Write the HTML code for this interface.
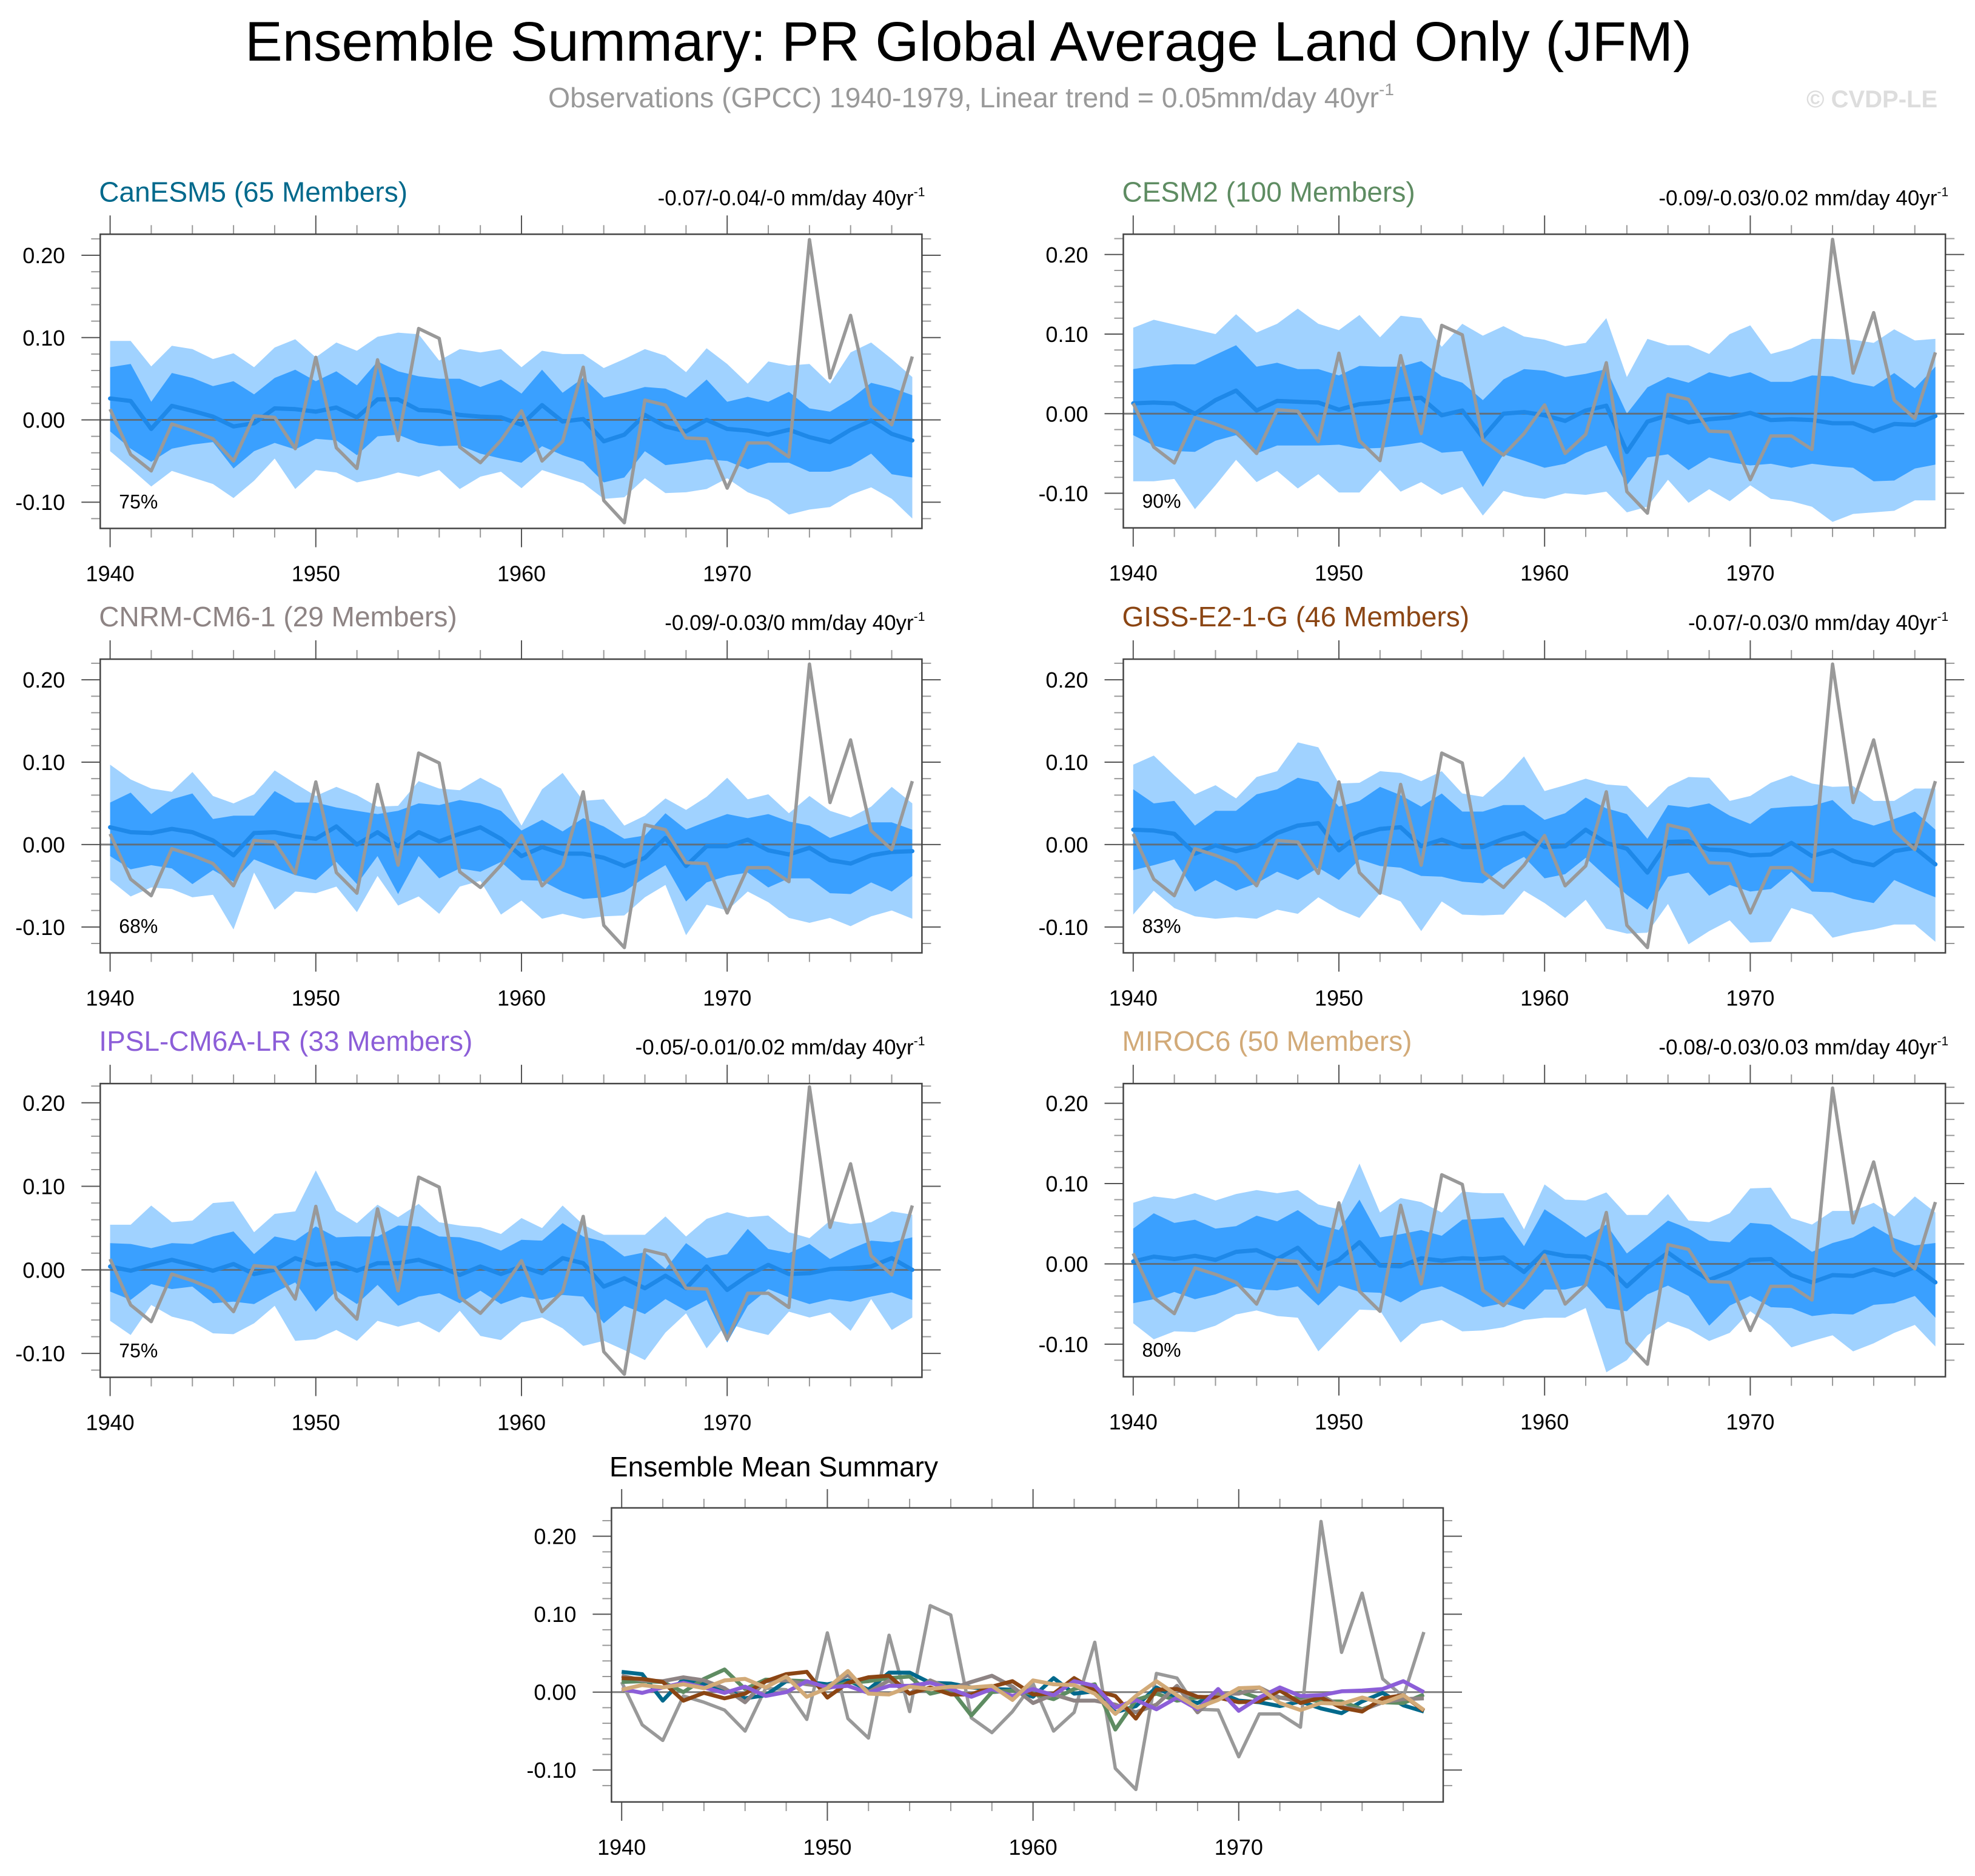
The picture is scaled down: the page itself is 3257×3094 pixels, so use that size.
<!DOCTYPE html>
<html>
<head>
<meta charset="utf-8">
<style>
  html,body{margin:0;padding:0;background:#fff;}
  svg{display:block;font-family:"Liberation Sans",Arial,sans-serif;}
</style>
</head>
<body>
<svg id="chart" xmlns="http://www.w3.org/2000/svg" width="3257" height="3094" viewBox="0 0 3257 3094">
  <rect x="0" y="0" width="3257" height="3094" fill="#fff"/>
  <text x="1597" y="100" font-size="92" text-anchor="middle" textLength="2386" lengthAdjust="spacingAndGlyphs" fill="#000">Ensemble Summary: PR Global Average Land Only (JFM)</text>
  <text x="904" y="177" font-size="46" fill="#999"><tspan textLength="1370" lengthAdjust="spacingAndGlyphs">Observations (GPCC) 1940-1979, Linear trend = 0.05mm/day 40yr</tspan><tspan font-size="28" dy="-20">-1</tspan></text>
  <text x="2979" y="177" font-size="40" font-weight="bold" fill="#ddd">© CVDP-LE</text>
  <text x="1005" y="2435" font-size="46" fill="#000">Ensemble Mean Summary</text>
  <g id="plots"></g>
</svg>
<script>
const years = [1940,1941,1942,1943,1944,1945,1946,1947,1948,1949,1950,1951,1952,1953,1954,1955,1956,1957,1958,1959,1960,1961,1962,1963,1964,1965,1966,1967,1968,1969,1970,1971,1972,1973,1974,1975,1976,1977,1978,1979];
const xTickYears = [1940,1950,1960,1970];
const yTickValues = [0.2,0.1,0,-0.1];
const yTickLabels = ["0.20","0.10","0.00","-0.10"];

const obs = [0.013,-0.042,-0.062,-0.005,-0.013,-0.023,-0.050,0.005,0.003,-0.035,0.076,-0.034,-0.059,0.073,-0.025,0.111,0.099,-0.033,-0.052,-0.025,0.011,-0.050,-0.026,0.064,-0.098,-0.125,0.024,0.018,-0.022,-0.023,-0.083,-0.028,-0.028,-0.045,0.219,0.051,0.127,0.017,-0.006,0.077];

// CanESM5
const canMean = [0.026,0.023,-0.011,0.017,0.011,0.004,-0.008,-0.004,0.014,0.013,0.010,0.015,0.003,0.025,0.025,0.012,0.011,0.006,0.004,0.003,-0.006,0.018,-0.002,0.001,-0.026,-0.018,0.006,-0.008,-0.014,0,-0.011,-0.013,-0.018,-0.012,-0.021,-0.027,-0.012,-0.001,-0.017,-0.025];
const canDarkHi = [0.064,0.068,0.022,0.057,0.051,0.041,0.047,0.031,0.051,0.061,0.047,0.059,0.042,0.071,0.059,0.053,0.050,0.050,0.040,0.049,0.032,0.061,0.033,0.051,0.027,0.033,0.040,0.038,0.027,0.049,0.022,0.028,0.022,0.034,0.014,0.010,0.025,0.045,0.039,0.030];
const canDarkLo = [-0.014,-0.035,-0.051,-0.035,-0.030,-0.027,-0.059,-0.038,-0.028,-0.036,-0.023,-0.025,-0.043,-0.020,-0.018,-0.028,-0.032,-0.031,-0.041,-0.047,-0.052,-0.032,-0.043,-0.051,-0.076,-0.070,-0.038,-0.055,-0.052,-0.048,-0.050,-0.060,-0.052,-0.052,-0.063,-0.063,-0.056,-0.041,-0.066,-0.070];
const canLightHi = [0.096,0.096,0.065,0.090,0.086,0.074,0.081,0.064,0.088,0.098,0.076,0.094,0.084,0.101,0.106,0.104,0.072,0.086,0.082,0.086,0.064,0.084,0.080,0.080,0.063,0.074,0.086,0.078,0.058,0.087,0.068,0.044,0.071,0.066,0.068,0.044,0.082,0.094,0.074,0.052];
const canLightLo = [-0.038,-0.059,-0.081,-0.062,-0.070,-0.078,-0.095,-0.074,-0.047,-0.084,-0.061,-0.064,-0.076,-0.071,-0.064,-0.069,-0.061,-0.084,-0.069,-0.063,-0.083,-0.061,-0.069,-0.077,-0.096,-0.094,-0.071,-0.089,-0.088,-0.084,-0.071,-0.088,-0.097,-0.115,-0.109,-0.106,-0.091,-0.082,-0.096,-0.120];

// CESM2
const cesmMean = [0.013,0.014,0.013,0,0.017,0.029,0.004,0.016,0.015,0.014,0.005,0.012,0.014,0.018,0.020,-0.002,0.004,-0.030,0,0.002,-0.002,-0.009,0.004,0.010,-0.048,-0.010,-0.002,-0.011,-0.007,-0.005,0.001,-0.008,-0.007,-0.008,-0.012,-0.012,-0.022,-0.013,-0.014,-0.003];
const cesmDarkHi = [0.056,0.060,0.062,0.062,0.074,0.086,0.059,0.064,0.056,0.056,0.048,0.060,0.059,0.059,0.066,0.047,0.039,0.017,0.043,0.056,0.054,0.046,0.050,0.056,0,0.033,0.046,0.039,0.052,0.046,0.052,0.040,0.040,0.048,0.047,0.039,0.034,0.051,0.032,0.059];
const cesmDarkLo = [-0.027,-0.040,-0.047,-0.048,-0.034,-0.027,-0.050,-0.040,-0.040,-0.040,-0.039,-0.044,-0.043,-0.040,-0.036,-0.049,-0.047,-0.092,-0.051,-0.059,-0.068,-0.063,-0.049,-0.040,-0.090,-0.055,-0.051,-0.071,-0.055,-0.061,-0.065,-0.063,-0.068,-0.063,-0.066,-0.068,-0.085,-0.084,-0.069,-0.064];
const cesmLightHi = [0.108,0.118,0.112,0.106,0.100,0.125,0.102,0.113,0.132,0.113,0.105,0.124,0.096,0.123,0.120,0.084,0.113,0.098,0.110,0.097,0.093,0.085,0.089,0.120,0.046,0.094,0.086,0.086,0.075,0.100,0.111,0.075,0.082,0.094,0.094,0.093,0.089,0.106,0.092,0.094];
const cesmLightLo = [-0.085,-0.085,-0.082,-0.120,-0.090,-0.058,-0.086,-0.072,-0.094,-0.076,-0.099,-0.099,-0.071,-0.098,-0.086,-0.102,-0.092,-0.128,-0.097,-0.104,-0.107,-0.100,-0.102,-0.098,-0.124,-0.117,-0.083,-0.112,-0.095,-0.110,-0.090,-0.107,-0.110,-0.117,-0.136,-0.126,-0.124,-0.122,-0.109,-0.109];

// CNRM-CM6-1
const cnrmMean = [0.021,0.015,0.014,0.019,0.015,0.005,-0.013,0.014,0.015,0.010,0.007,0.022,0,0.015,-0.002,0.015,0.004,0.013,0.021,0.007,-0.014,-0.003,-0.011,-0.011,-0.016,-0.026,-0.016,0.008,-0.026,-0.002,-0.002,0.006,-0.007,-0.012,-0.004,-0.019,-0.023,-0.013,-0.009,-0.008];
const cnrmDarkHi = [0.051,0.063,0.037,0.055,0.062,0.031,0.035,0.035,0.065,0.051,0.051,0.045,0.041,0.037,0.041,0.050,0.048,0.054,0.050,0.041,0.017,0.030,0.016,0.032,0.022,0.007,0.011,0.038,0.018,0.028,0.037,0.032,0.037,0.028,0.023,0.008,0.017,0.027,0.027,0.018];
const cnrmDarkLo = [-0.014,-0.030,-0.025,-0.029,-0.048,-0.031,-0.045,-0.018,-0.028,-0.037,-0.043,-0.021,-0.048,-0.014,-0.060,-0.014,-0.041,-0.029,-0.033,-0.021,-0.043,-0.044,-0.057,-0.066,-0.064,-0.057,-0.040,-0.025,-0.069,-0.046,-0.038,-0.034,-0.052,-0.041,-0.041,-0.059,-0.060,-0.046,-0.057,-0.038];
const cnrmLightHi = [0.097,0.079,0.068,0.064,0.088,0.059,0.050,0.061,0.090,0.074,0.059,0.070,0.060,0.046,0.047,0.077,0.068,0.066,0.081,0.068,0.023,0.067,0.087,0.053,0.055,0.023,0.035,0.056,0.042,0.058,0.081,0.055,0.061,0.038,0.059,0.041,0.033,0.046,0.070,0.050];
const cnrmLightLo = [-0.043,-0.063,-0.052,-0.054,-0.064,-0.061,-0.103,-0.034,-0.079,-0.057,-0.059,-0.051,-0.082,-0.038,-0.074,-0.063,-0.084,-0.051,-0.044,-0.085,-0.068,-0.090,-0.084,-0.090,-0.087,-0.086,-0.064,-0.049,-0.110,-0.073,-0.080,-0.057,-0.070,-0.089,-0.095,-0.089,-0.099,-0.087,-0.080,-0.090];

// GISS-E2-1-G
const gissMean = [0.018,0.017,0.013,-0.011,-0.001,-0.008,-0.002,0.014,0.023,0.026,-0.007,0.012,0.019,0.021,-0.002,0.006,-0.003,-0.003,0.007,0.014,-0.003,-0.002,0.018,0.002,-0.005,-0.034,0.003,0.004,-0.006,-0.007,-0.013,-0.012,0.002,-0.014,-0.007,-0.020,-0.025,-0.008,-0.004,-0.024];
const gissDarkHi = [0.067,0.050,0.053,0.023,0.041,0.041,0.061,0.067,0.081,0.076,0.046,0.053,0.070,0.060,0.046,0.062,0.040,0.040,0.048,0.048,0.030,0.038,0.057,0.044,0.037,0.007,0.048,0.045,0.050,0.035,0.025,0.044,0.046,0.047,0.054,0.031,0.023,0.031,0.040,0.018];
const gissDarkLo = [-0.031,-0.025,-0.018,-0.057,-0.043,-0.056,-0.047,-0.033,-0.043,-0.028,-0.043,-0.018,-0.026,-0.028,-0.038,-0.039,-0.045,-0.047,-0.028,-0.015,-0.041,-0.036,-0.016,-0.039,-0.061,-0.079,-0.039,-0.034,-0.062,-0.049,-0.057,-0.054,-0.033,-0.057,-0.058,-0.066,-0.071,-0.043,-0.054,-0.064];
const gissLightHi = [0.097,0.108,0.084,0.061,0.072,0.056,0.082,0.089,0.124,0.118,0.074,0.075,0.089,0.087,0.077,0.089,0.062,0.058,0.080,0.107,0.065,0.072,0.080,0.073,0.071,0.045,0.070,0.082,0.081,0.053,0.059,0.075,0.084,0.074,0.070,0.071,0.053,0.053,0.068,0.068];
const gissLightLo = [-0.085,-0.056,-0.077,-0.087,-0.090,-0.088,-0.090,-0.079,-0.084,-0.064,-0.079,-0.089,-0.059,-0.069,-0.105,-0.069,-0.085,-0.086,-0.085,-0.056,-0.071,-0.089,-0.067,-0.102,-0.108,-0.107,-0.072,-0.121,-0.105,-0.092,-0.119,-0.118,-0.077,-0.085,-0.113,-0.107,-0.103,-0.097,-0.097,-0.118];

// IPSL-CM6A-LR
const ipslMean = [0.004,-0.001,0.006,0.012,0.006,-0.001,0.007,-0.005,0,0.014,0.006,0.008,-0.001,0.008,0.008,0.012,0.004,-0.006,0.004,-0.005,0.004,-0.004,0.014,0.008,-0.020,-0.010,-0.022,-0.007,-0.022,0.004,-0.024,-0.007,0.006,-0.005,-0.004,0.001,0.002,0.004,0.014,0];
const ipslDarkHi = [0.032,0.031,0.026,0.032,0.031,0.040,0.046,0.019,0.040,0.035,0.052,0.039,0.040,0.040,0.053,0.052,0.040,0.039,0.033,0.023,0.036,0.035,0.056,0.040,0.034,0.016,0.021,0.001,0.032,0.014,0.019,0.049,0.025,0.020,0.031,0.013,0.025,0.035,0.033,0.039];
const ipslDarkLo = [-0.026,-0.036,-0.017,-0.023,-0.020,-0.040,-0.038,-0.041,-0.027,-0.015,-0.050,-0.025,-0.041,-0.018,-0.043,-0.032,-0.028,-0.040,-0.025,-0.041,-0.032,-0.036,-0.030,-0.032,-0.064,-0.043,-0.053,-0.035,-0.049,-0.036,-0.087,-0.043,-0.023,-0.033,-0.041,-0.035,-0.038,-0.032,-0.027,-0.036];
const ipslLightHi = [0.054,0.054,0.077,0.057,0.059,0.080,0.082,0.045,0.067,0.070,0.119,0.071,0.056,0.078,0.063,0.079,0.057,0.053,0.051,0.043,0.062,0.050,0.077,0.054,0.042,0.042,0.042,0.064,0.040,0.061,0.069,0.063,0.065,0.045,0.038,0.059,0.055,0.057,0.070,0.066];
const ipslLightLo = [-0.061,-0.078,-0.042,-0.056,-0.062,-0.076,-0.077,-0.064,-0.043,-0.085,-0.083,-0.072,-0.085,-0.061,-0.068,-0.062,-0.075,-0.049,-0.079,-0.084,-0.063,-0.057,-0.070,-0.091,-0.085,-0.096,-0.108,-0.075,-0.052,-0.094,-0.064,-0.072,-0.078,-0.050,-0.057,-0.051,-0.073,-0.035,-0.072,-0.057];

// MIROC6
const mirocMean = [0.003,0.009,0.006,0.010,0.005,0.015,0.017,0.006,0.020,-0.006,0.005,0.027,-0.002,-0.003,0.007,0.004,0.007,0.006,0.008,-0.010,0.015,0.010,0.009,-0.002,-0.028,-0.005,0.014,-0.004,-0.020,-0.010,0.005,0.006,-0.014,-0.023,-0.014,-0.015,-0.007,-0.014,-0.004,-0.023];
const mirocDarkHi = [0.044,0.063,0.051,0.055,0.044,0.047,0.060,0.053,0.067,0.049,0.042,0.080,0.033,0.037,0.042,0.035,0.055,0.056,0.058,0.022,0.068,0.051,0.033,0.049,0.013,0.033,0.054,0.044,0.029,0.027,0.051,0.049,0.033,0.015,0.026,0.033,0.047,0.032,0.023,0.026];
const mirocDarkLo = [-0.049,-0.044,-0.035,-0.044,-0.038,-0.028,-0.032,-0.033,-0.028,-0.052,-0.027,-0.035,-0.036,-0.048,-0.033,-0.028,-0.040,-0.054,-0.049,-0.057,-0.032,-0.032,-0.026,-0.055,-0.059,-0.038,-0.027,-0.040,-0.077,-0.052,-0.040,-0.054,-0.055,-0.065,-0.062,-0.063,-0.051,-0.049,-0.040,-0.067];
const mirocLightHi = [0.076,0.084,0.081,0.088,0.079,0.087,0.092,0.088,0.092,0.074,0.068,0.125,0.064,0.082,0.077,0.064,0.090,0.088,0.088,0.043,0.099,0.080,0.079,0.089,0.061,0.061,0.087,0.054,0.052,0.063,0.094,0.095,0.057,0.049,0.066,0.066,0.076,0.059,0.084,0.064];
const mirocLightLo = [-0.074,-0.094,-0.084,-0.085,-0.077,-0.063,-0.058,-0.065,-0.067,-0.109,-0.083,-0.057,-0.058,-0.098,-0.075,-0.070,-0.084,-0.083,-0.079,-0.070,-0.067,-0.067,-0.055,-0.135,-0.120,-0.089,-0.072,-0.081,-0.096,-0.086,-0.059,-0.077,-0.104,-0.096,-0.089,-0.109,-0.099,-0.086,-0.076,-0.103];

const modelNames = ["CanESM5 (65 Members)","CESM2 (100 Members)","CNRM-CM6-1 (29 Members)","GISS-E2-1-G (46 Members)","IPSL-CM6A-LR (33 Members)","MIROC6 (50 Members)"];
const modelTrends = ["-0.07/-0.04/-0","-0.09/-0.03/0.02","-0.09/-0.03/0","-0.07/-0.03/0","-0.05/-0.01/0.02","-0.08/-0.03/0.03"];
const modelPercents = ["75%","90%","68%","83%","75%","80%"];

const modelColors = ["#00698c","#5e8c62","#8e8484","#8b4513","#8c5ed8","#d2aa78"];
const SVGNS = "http://www.w3.org/2000/svg";
const root = document.getElementById("plots");

function mk(tag, attrs, parent) {
  const e = document.createElementNS(SVGNS, tag);
  for (const k in attrs) e.setAttribute(k, attrs[k]);
  (parent || root).appendChild(e);
  return e;
}

const layouts = [
  {l:165.3,r:1520.4,x0:181.6,t:386.3,b:871.5,yt:0.2256,yb:-0.1319},
  {l:1852.5,r:3208.2,x0:1868.8,t:386.3,b:870.6,yt:0.2255,yb:-0.1435},
  {l:165.3,r:1520.4,x0:181.6,t:1087.1,b:1571.5,yt:0.2250,yb:-0.1314},
  {l:1852.5,r:3208.2,x0:1868.8,t:1087.1,b:1571.5,yt:0.2250,yb:-0.1314},
  {l:165.3,r:1520.4,x0:181.6,t:1787.1,b:2271.5,yt:0.2230,yb:-0.1286},
  {l:1852.5,r:3208.2,x0:1868.8,t:1787.1,b:2270.6,yt:0.2246,yb:-0.1406},
  {l:1008.4,r:2380,x0:1025.2,t:2486.9,b:2971.9,yt:0.2364,yb:-0.1410}
];
const YEAR_STEP = 33.92;

function axes(L) {
  const xs = yr => L.x0 + (yr - years[0]) * YEAR_STEP;
  const ys = v => L.b - (v - L.yb) / (L.yt - L.yb) * (L.b - L.t);
  return {xs, ys};
}

function drawFrame(L, g, A) {
  for (let yr = years[0]; yr <= years[years.length-1]; yr += 2) {
    const major = xTickYears.indexOf(yr) >= 0;
    const len = major ? 31 : 15;
    const x = A.xs(yr);
    const t1 = mk("line", {x1:x, y1:L.t, x2:x, y2:L.t-len, stroke: major?"#555":"#999", "stroke-width":2}, g);
    
    
    const t2 = mk("line", {x1:x, y1:L.b, x2:x, y2:L.b+len, stroke: major?"#555":"#999", "stroke-width":2}, g);
    
    
  }
  xTickYears.forEach(yr => {
    const tx = mk("text", {x:A.xs(yr), y:L.b+87, "font-size":36, "text-anchor":"middle", fill:"#000"}, g);
    tx.textContent = String(yr);
    
    
  });
  for (let k = -6; k <= 11; k++) {
    const v = k * 0.02;
    if (v < L.yb + 0.005 || v > L.yt - 0.002) continue;
    const major = Math.abs(Math.round(v*100) % 10) === 0;
    const len = major ? 31 : 15;
    const y = A.ys(v);
    const a = mk("line", {x1:L.l, y1:y, x2:L.l-len, y2:y, stroke: major?"#555":"#999", "stroke-width":2}, g);
    
    
    const c = mk("line", {x1:L.r, y1:y, x2:L.r+len, y2:y, stroke: major?"#555":"#999", "stroke-width":2}, g);
    
    
  }
  yTickValues.forEach((v, i) => {
    const tl = mk("text", {x:L.l-58, y:A.ys(v)+13, "font-size":36, "text-anchor":"end", fill:"#000"}, g);
    tl.textContent = yTickLabels[i];
    
    
  });
}

function poly(vals, A) {
  return vals.map((v, i) => A.xs(years[i]).toFixed(1) + "," + A.ys(v).toFixed(1)).join(" ");
}
function polyRev(vals, A) {
  const pts = [];
  for (let i = vals.length - 1; i >= 0; i--) pts.push(A.xs(years[i]).toFixed(1) + "," + A.ys(vals[i]).toFixed(1));
  return pts.join(" ");
}

function drawModel(idx, mean, dHi, dLo, lHi, lLo) {
  const L = layouts[idx];
  const g = mk("g", {});
  
  
  const A = axes(L);
  drawFrame(L, g, A);
  const light = mk("polygon", {points: poly(lHi, A) + " " + polyRev(lLo, A), fill:"#a0d2ff"}, g);
  
  
  const dark = mk("polygon", {points: poly(dHi, A) + " " + polyRev(dLo, A), fill:"#3aa0ff"}, g);
  
  
  const z = mk("line", {x1:L.l, x2:L.r, y1:A.ys(0), y2:A.ys(0), stroke:"#666", "stroke-width":3, "stroke-opacity":0.85}, g);
  
  
  const m = mk("polyline", {points: poly(mean, A), fill:"none", stroke:"#1e88e8", "stroke-width":7, "stroke-linejoin":"round", "stroke-linecap":"round"}, g);
  
  
  const o = mk("polyline", {points: poly(obs, A), fill:"none", stroke:"#999", "stroke-width":5.5, "stroke-linejoin":"round"}, g);
  
  
  const box = mk("rect", {x:L.l, y:L.t, width:L.r-L.l, height:L.b-L.t, fill:"none", stroke:"#444", "stroke-width":2.5}, g);
  
  
  const ti = mk("text", {x:L.l-2, y:L.t-54, "font-size":46, fill:modelColors[idx]}, g);
  ti.textContent = modelNames[idx];
  
  
  const tr = mk("text", {x:L.r+5, y:L.t-48, "font-size":35, "text-anchor":"end", fill:"#000"}, g);
  
  
  const s1 = mk("tspan", {}, tr);
  s1.textContent = modelTrends[idx] + " mm/day 40yr";
  const s2 = mk("tspan", {"font-size":21, dy:-15}, tr);
  s2.textContent = "-1";
  const pc = mk("text", {x:L.l+31, y:L.b-33, "font-size":32, fill:"#000"}, g);
  pc.textContent = modelPercents[idx];
  
  
}

drawModel(0, canMean, canDarkHi, canDarkLo, canLightHi, canLightLo);
drawModel(1, cesmMean, cesmDarkHi, cesmDarkLo, cesmLightHi, cesmLightLo);
drawModel(2, cnrmMean, cnrmDarkHi, cnrmDarkLo, cnrmLightHi, cnrmLightLo);
drawModel(3, gissMean, gissDarkHi, gissDarkLo, gissLightHi, gissLightLo);
drawModel(4, ipslMean, ipslDarkHi, ipslDarkLo, ipslLightHi, ipslLightLo);
drawModel(5, mirocMean, mirocDarkHi, mirocDarkLo, mirocLightHi, mirocLightLo);

(function(){
  const L = layouts[6];
  const g = mk("g", {});
  
  
  const A = axes(L);
  drawFrame(L, g, A);
  const z = mk("line", {x1:L.l, x2:L.r, y1:A.ys(0), y2:A.ys(0), stroke:"#666", "stroke-width":3, "stroke-opacity":0.85}, g);
  
  
  const o = mk("polyline", {points: poly(obs, A), fill:"none", stroke:"#999", "stroke-width":5.5, "stroke-linejoin":"round"}, g);
  
  
  const means = [canMean, cesmMean, cnrmMean, gissMean, ipslMean, mirocMean];
  means.forEach((mv, i) => {
    const pl = mk("polyline", {points: poly(mv, A), fill:"none", stroke:modelColors[i], "stroke-width":6.5, "stroke-linejoin":"round"}, g);
    
    
  });
  const box = mk("rect", {x:L.l, y:L.t, width:L.r-L.l, height:L.b-L.t, fill:"none", stroke:"#444", "stroke-width":2.5}, g);
  
  
})();
</script>
</body>
</html>
